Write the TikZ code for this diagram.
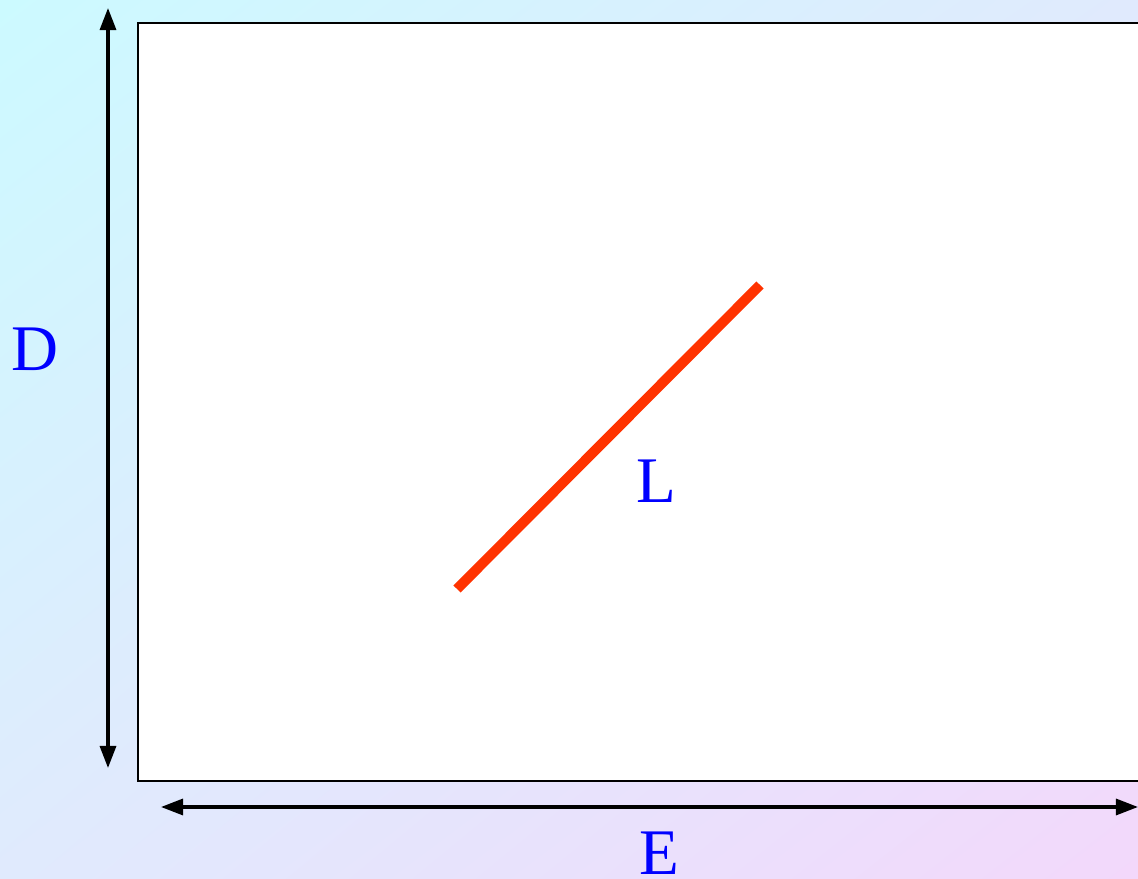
\documentclass[tikz,border=0pt]{standalone}
\usepackage{fontspec}
\setmainfont{Liberation Serif}
\usetikzlibrary{positioning, arrows.meta, shadings}

\definecolor{bgtl}{RGB}{204,250,255}
\definecolor{bgmid}{RGB}{224,234,253}
\definecolor{bgbr}{RGB}{243,216,251}
\definecolor{segred}{RGB}{255,51,0}

\begin{document}
\begin{tikzpicture}[
    x=0.01cm, y=-0.01cm,
    frame/.style={
        draw=black,
        fill=white,
        line width=0.6pt
    },
    dimarrow/.style={
        {Triangle[length=0.22cm, width=0.16cm]}-{Triangle[length=0.22cm, width=0.16cm]},
        line width=0.9pt,
        draw=black
    },
    seg/.style={
        draw=segred,
        line width=0.1cm
    },
    lbl/.style={
        text=blue,
        font=\fontsize{18.5}{22}\selectfont,
        inner sep=0pt,
        text depth=0pt,
        anchor=base
    }
]

% Hintergrund
\shade[upper left=bgtl, upper right=bgmid, lower left=bgmid, lower right=bgbr]
    (0,0) rectangle (1138,879);
\useasboundingbox (0,0) rectangle (1138,879);

% Rahmen
\draw[frame] (138,23) rectangle (1150,781);

% Masspfeile
\coordinate (dtop) at (108,8);
\coordinate (dbot) at (108,768);
\coordinate (eleft) at (161,807);
\coordinate (eright) at (1138,807);
\draw[dimarrow] (dtop) -- (dbot);
\draw[dimarrow] (eleft) -- (eright);

% Strecke L
\coordinate (la) at (457,589);
\coordinate (lb) at (760,285);
\draw[seg] (la) -- (lb);

% Beschriftungen
\node[lbl] (dlabel) at (35,371) {D};
\node[lbl] (elabel) at (659,875) {E};
\node[lbl] (llabel) at (656,503) {L};

\end{tikzpicture}
\end{document}
